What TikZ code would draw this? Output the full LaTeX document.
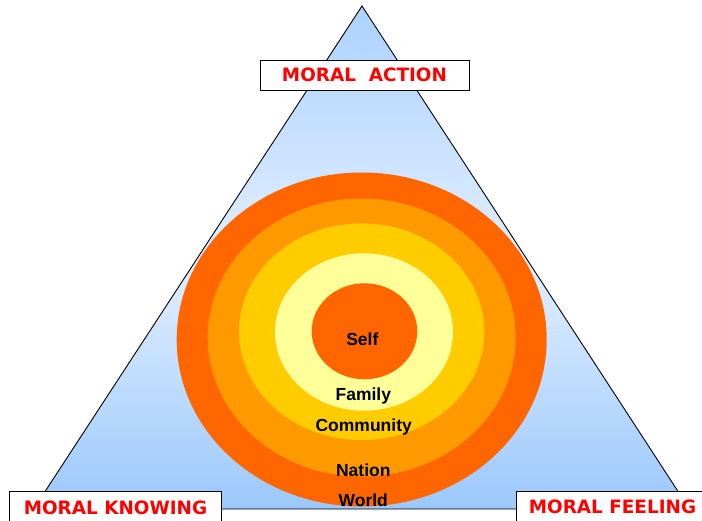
\documentclass[tikz,border=0pt]{standalone}
\usepackage{fontspec}
\newfontfamily\ringfont{Liberation Sans}
\newfontfamily\boxfont{DejaVu Sans}
\definecolor{topblue}{RGB}{172,210,255}
\definecolor{paleblue}{RGB}{226,239,255}
\definecolor{botblue}{RGB}{155,200,252}
\definecolor{deeporange}{RGB}{255,102,0}
\definecolor{midorange}{RGB}{255,153,0}
\definecolor{goldyellow}{RGB}{255,204,0}
\definecolor{paleyellow}{RGB}{255,255,153}
\definecolor{labelred}{RGB}{255,0,0}
\tikzset{
  labelbox/.style={draw=black, line width=1pt, fill=white, inner sep=0pt,
    text=labelred, font=\boxfont\bfseries\fontsize{18.4}{20}\selectfont},
  ringlabel/.style={anchor=base, inner sep=0pt, text=black,
    font=\ringfont\bfseries\fontsize{17.5}{20}\selectfont}
}
\begin{document}
\begin{tikzpicture}[x=1pt,y=-1pt]
\useasboundingbox (0,0) rectangle (702,520);
% triangle
\coordinate (apex) at (362,6);
\coordinate (bl) at (33.6,509);
\coordinate (br) at (689.5,509);
\begin{scope}
  \clip (apex) -- (bl) -- (br) -- cycle;
  \foreach \i in {0,...,49} {
    \pgfmathsetmacro{\ya}{6+\i*5.1}
    \pgfmathsetmacro{\pct}{100*\i/49}
    \fill[paleblue!\pct!topblue] (20,\ya) rectangle (700,\ya+5.6);
  }
  \foreach \i in {0,...,49} {
    \pgfmathsetmacro{\ya}{261+\i*5.0}
    \pgfmathsetmacro{\pct}{100*\i/49}
    \fill[botblue!\pct!paleblue] (20,\ya) rectangle (700,\ya+5.5);
  }
\end{scope}
\draw[black, line width=0.9pt, line join=miter] (apex) -- (bl) -- (br) -- cycle;
% rings
\fill[deeporange] (361.7,339.5) ellipse [x radius=185pt, y radius=167pt];
\fill[midorange] (361.7,337.5) ellipse [x radius=154pt, y radius=139pt];
\fill[goldyellow] (361.7,331.7) ellipse [x radius=122.7pt, y radius=108.3pt];
\fill[paleyellow] (364,332) ellipse [x radius=89pt, y radius=78.7pt];
\fill[deeporange] (364.5,331.3) ellipse [x radius=52.8pt, y radius=48pt];
% ring labels
\node[ringlabel] (self) at (362.3,345) {Self};
\node[ringlabel] (family) at (363.3,400) {Family};
\node[ringlabel] (community) at (363.7,431.7) {Community};
\node[ringlabel] (nation) at (363.3,476.7) {Nation};
\node[ringlabel] (world) at (363.3,506.7) {World};
% label boxes
\node[labelbox, minimum width=209pt, minimum height=30pt] (action) at (364.5,75) {MORAL\ \ ACTION};
\node[labelbox, minimum width=212.4pt, minimum height=31.6pt] (knowing) at (115.5,507.5) {MORAL KNOWING};
\node[labelbox, minimum width=191.6pt, minimum height=32pt] (feeling) at (612.5,507) {MORAL FEELING};
\end{tikzpicture}
\end{document}
